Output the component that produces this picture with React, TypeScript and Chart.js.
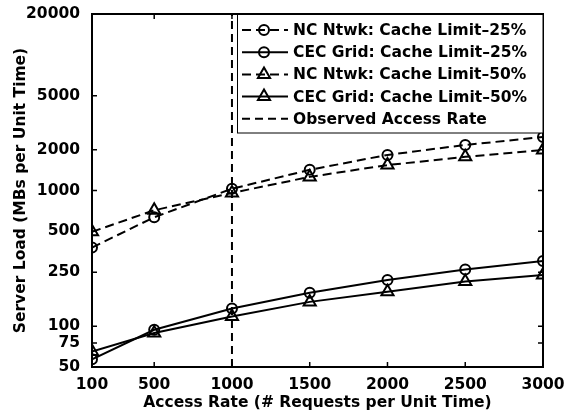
import React, { useEffect, useRef } from 'react';
import { Chart, registerables } from 'chart.js';

Chart.register(...registerables);

const accessRates = [100, 500, 1000, 1500, 2000, 2500, 3000];
const ncNtwk25 = [380, 635, 1030, 1420, 1830, 2165, 2480];
const cecGrid25 = [57, 94, 135, 176, 219, 262, 302];
const ncNtwk50 = [496, 715, 960, 1260, 1540, 1770, 1990];
const cecGrid50 = [65, 89, 118, 151, 179, 213, 238];
const observedRate = 1000;
const xTicks = [100, 500, 1000, 1500, 2000, 2500, 3000];
const yTicks = [50, 75, 100, 250, 500, 1000, 2000, 5000, 20000];
const yMin = 50;
const yMax = 20000;

const FONT = '"DejaVu Sans", sans-serif';

const pts = (vals: number[]) => accessRates.map((x, i) => ({ x, y: vals[i] }));

type Item = { label: string; dash: number[]; marker: 'circle' | 'triangle' | null };
const legendItems: Item[] = [
  { label: 'NC Ntwk: Cache Limit\u201325%', dash: [9, 5], marker: 'circle' },
  { label: 'CEC Grid: Cache Limit\u201325%', dash: [], marker: 'circle' },
  { label: 'NC Ntwk: Cache Limit\u201350%', dash: [9, 5], marker: 'triangle' },
  { label: 'CEC Grid: Cache Limit\u201350%', dash: [], marker: 'triangle' },
  { label: 'Observed Access Rate', dash: [8, 5], marker: null },
];

function drawMarker(ctx: CanvasRenderingContext2D, kind: 'circle' | 'triangle', x: number, y: number) {
  ctx.beginPath();
  if (kind === 'circle') {
    ctx.arc(x, y, 5, 0, Math.PI * 2);
  } else {
    const r = 7;
    const edge = (3 * r) / Math.sqrt(3);
    const h = (edge * Math.sqrt(3)) / 2;
    ctx.moveTo(x - edge / 2, y + h / 3);
    ctx.lineTo(x + edge / 2, y + h / 3);
    ctx.lineTo(x, y - (2 * h) / 3);
    ctx.closePath();
  }
  ctx.stroke();
}

const framePlugin = {
  id: 'frame',
  afterDatasetsDraw(chart: any) {
    const { ctx, chartArea: a, scales } = chart;
    ctx.save();
    ctx.strokeStyle = '#000';
    ctx.lineWidth = 2;
    ctx.setLineDash([]);
    ctx.strokeRect(a.left, a.top, a.right - a.left, a.bottom - a.top);
    const tl = 5;
    ctx.lineWidth = 1.5;
    ctx.beginPath();
    xTicks.forEach((v) => {
      const px = scales.x.getPixelForValue(v);
      ctx.moveTo(px, a.bottom);
      ctx.lineTo(px, a.bottom - tl);
      ctx.moveTo(px, a.top);
      ctx.lineTo(px, a.top + tl);
    });
    yTicks.forEach((v) => {
      const py = scales.y.getPixelForValue(v);
      ctx.moveTo(a.left, py);
      ctx.lineTo(a.left + tl, py);
      ctx.moveTo(a.right, py);
      ctx.lineTo(a.right - tl, py);
    });
    ctx.stroke();
    ctx.restore();
  },
};

const legendPlugin = {
  id: 'boxLegend',
  afterDraw(chart: any) {
    const { ctx, chartArea: a } = chart;
    const left = 237;
    const right = a.right;
    const top = a.top;
    const bottom = 133;
    ctx.save();
    ctx.fillStyle = '#fff';
    ctx.fillRect(left, top, right - left, bottom - top);
    ctx.strokeStyle = '#000';
    ctx.lineWidth = 1;
    ctx.strokeRect(left + 0.5, top, right - left - 0.5, bottom - top);
    ctx.lineWidth = 2;
    ctx.strokeRect(left, top, right - left, 0);
    legendItems.forEach((it, i) => {
      const y = top + 16 + i * 22.2;
      ctx.lineWidth = 2;
      ctx.strokeStyle = '#000';
      ctx.setLineDash(it.dash);
      ctx.beginPath();
      ctx.moveTo(242, y);
      ctx.lineTo(288, y);
      ctx.stroke();
      ctx.setLineDash([]);
      if (it.marker) drawMarker(ctx, it.marker, 264, y);
      ctx.fillStyle = '#000';
      ctx.font = `bold 15.5px ${FONT}`;
      ctx.textBaseline = 'middle';
      ctx.textAlign = 'left';
      ctx.fillText(it.label, 293, y + 1);
    });
    ctx.restore();
  },
};

export default function App() {
  const ref = useRef<HTMLCanvasElement | null>(null);
  useEffect(() => {
    if (!ref.current) return;
    const base = {
      borderColor: '#000',
      borderWidth: 2,
      pointBorderColor: '#000',
      pointBackgroundColor: 'rgba(0,0,0,0)',
      pointBorderWidth: 2,
      fill: false,
      tension: 0,
    };
    const chart = new Chart(ref.current, {
      type: 'line',
      data: {
        datasets: [
          { ...base, label: legendItems[0].label, data: pts(ncNtwk25), borderDash: [9, 5], pointStyle: 'circle', pointRadius: 5 },
          { ...base, label: legendItems[1].label, data: pts(cecGrid25), pointStyle: 'circle', pointRadius: 5 },
          { ...base, label: legendItems[2].label, data: pts(ncNtwk50), borderDash: [9, 5], pointStyle: 'triangle', pointRadius: 7 },
          { ...base, label: legendItems[3].label, data: pts(cecGrid50), pointStyle: 'triangle', pointRadius: 7 },
          {
            ...base,
            label: legendItems[4].label,
            data: [
              { x: observedRate, y: yMin },
              { x: observedRate, y: yMax },
            ],
            borderDash: [8, 5],
            pointRadius: 0,
          },
        ] as any,
      },
      options: {
        animation: false,
        responsive: false,
        maintainAspectRatio: false,
        layout: { padding: { top: 14, right: 33, bottom: 0, left: 0 } },
        plugins: { legend: { display: false }, tooltip: { enabled: false } },
        elements: { line: { borderCapStyle: 'butt' } },
        scales: {
          x: {
            type: 'linear',
            min: 100,
            max: 3000,
            afterBuildTicks: (s: any) => {
              s.ticks = xTicks.map((v) => ({ value: v }));
            },
            afterFit: (s: any) => {
              s.height = 51;
            },
            grid: { display: false },
            border: { display: false },
            ticks: {
              autoSkip: false,
              maxRotation: 0,
              padding: 1,
              color: '#000',
              font: { family: FONT, size: 15.5, weight: 'bold' },
              callback: (v: any) => String(v),
            },
            title: {
              display: true,
              text: 'Access Rate (# Requests per Unit Time)',
              color: '#000',
              font: { family: FONT, size: 15.5, weight: 'bold' },
              padding: { top: 0, bottom: 6 },
            },
          },
          y: {
            type: 'logarithmic',
            min: yMin,
            max: yMax,
            afterBuildTicks: (s: any) => {
              s.ticks = yTicks.map((v) => ({ value: v }));
            },
            afterFit: (s: any) => {
              s.width = 92;
            },
            grid: { display: false },
            border: { display: false },
            ticks: {
              autoSkip: false,
              padding: 4,
              color: '#000',
              font: { family: FONT, size: 15.5, weight: 'bold' },
              callback: (v: any) => String(v),
            },
            title: {
              display: true,
              text: 'Server Load (MBs per Unit Time)',
              color: '#000',
              font: { family: FONT, size: 15.5, weight: 'bold' },
              padding: { top: 12, bottom: 0 },
            },
          },
        },
      } as any,
      plugins: [framePlugin, legendPlugin],
    });
    return () => chart.destroy();
  }, []);
  return (
    <div style={{ position: 'fixed', left: 0, top: 0, width: 576, height: 418, background: '#fff' }}>
      <canvas ref={ref} width={576} height={418} style={{ display: 'block' }} />
    </div>
  );
}
